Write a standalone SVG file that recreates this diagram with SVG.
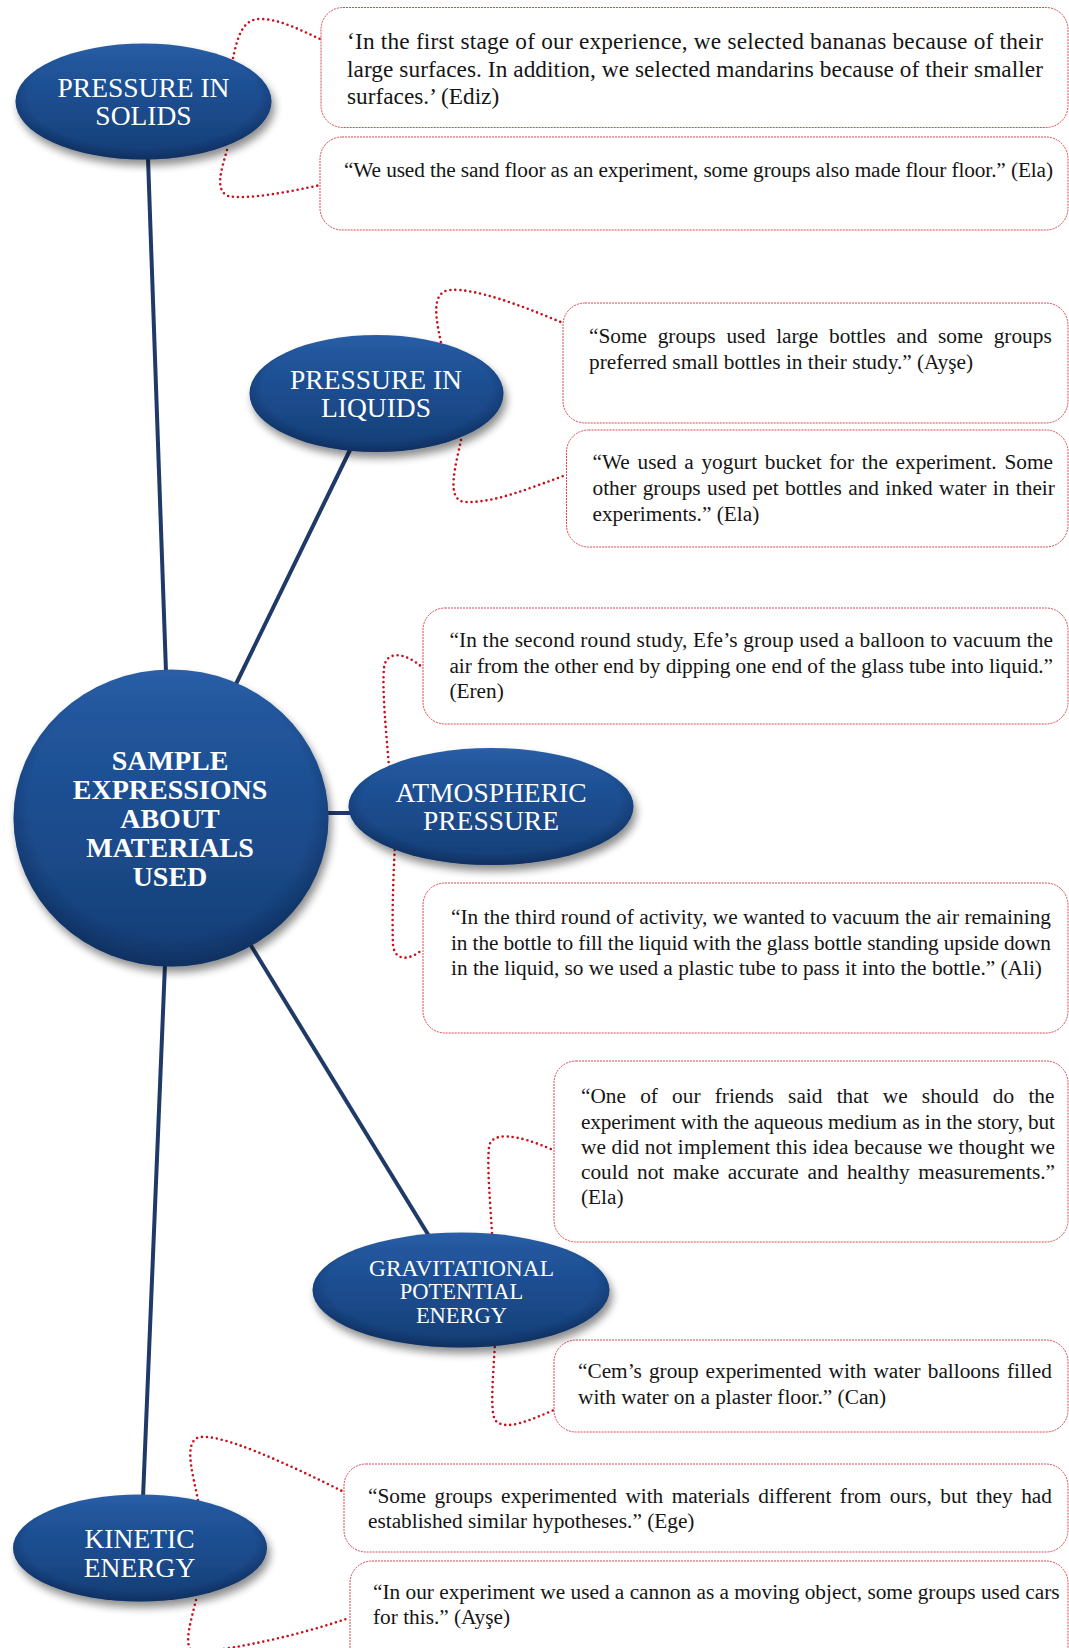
<svg xmlns="http://www.w3.org/2000/svg" width="1069" height="1648" viewBox="0 0 1069 1648">
<defs>
<linearGradient id="blue" x1="0" y1="0" x2="0" y2="1">
<stop offset="0" stop-color="#2a5ea6"/>
<stop offset="0.18" stop-color="#21559b"/>
<stop offset="0.6" stop-color="#1b4a8a"/>
<stop offset="1" stop-color="#153d74"/>
</linearGradient>
<radialGradient id="rim" cx="0.5" cy="0.45" r="0.55">
<stop offset="0.82" stop-color="#0a2550" stop-opacity="0"/>
<stop offset="1" stop-color="#0a2550" stop-opacity="0.55"/>
</radialGradient>
<filter id="shadow" x="-20%" y="-20%" width="140%" height="150%">
<feGaussianBlur in="SourceAlpha" stdDeviation="4"/>
<feOffset dx="3" dy="6" result="b"/>
<feComponentTransfer><feFuncA type="linear" slope="0.45"/></feComponentTransfer>
<feMerge><feMergeNode/><feMergeNode in="SourceGraphic"/></feMerge>
</filter>
</defs>
<style>
.base{fill:url(#blue);filter:url(#shadow)}
.rim{fill:url(#rim)}
.lbl{font-family:"Liberation Serif","Times New Roman",serif;fill:#ffffff;text-anchor:middle;font-size:27.5px}
.bold{font-weight:bold;font-size:28px}
.q{font-family:"Liberation Serif","Times New Roman",serif;font-size:21.3px;fill:#151515}
.q1{font-size:23.3px}
.box{fill:#ffffff;stroke:#d9474f;stroke-width:1;stroke-dasharray:2 1}
.conn{stroke:#1f3a68;stroke-width:4;fill:none}
.dot{stroke:#c8101a;stroke-width:2.6;fill:none;stroke-dasharray:0 5;stroke-linecap:round}
</style>
<rect width="1069" height="1648" fill="#ffffff"/>

<g id="connectors">
<line class="conn" x1="148" y1="158" x2="166" y2="672"/>
<line class="conn" x1="350" y1="450" x2="236" y2="684"/>
<line class="conn" x1="326" y1="813" x2="352" y2="813"/>
<line class="conn" x1="250" y1="944" x2="429" y2="1236"/>
<line class="conn" x1="165" y1="964" x2="143" y2="1498"/>
<path class="dot" d="M232,63 C237,38 242,19 260,19 C280,19 300,30 320,39"/>
<path class="dot" d="M227,150 C222,168 214,190 228,196 C245,200 290,192 320,185"/>
<path class="dot" d="M442,347 C436,320 430,292 450,290 C475,288 520,305 563,323"/>
<path class="dot" d="M461,440 C456,465 445,500 465,502 C495,503 530,488 566,475"/>
<path class="dot" d="M389,767 C386,730 382,690 384,668 C386,650 405,652 423,668"/>
<path class="dot" d="M395,845 C393,880 392,920 393,945 C395,962 410,960 422,950"/>
<path class="dot" d="M492,1233 C490,1200 487,1165 489,1147 C491,1132 515,1133 553,1150"/>
<path class="dot" d="M495,1342 C493,1380 490,1410 495,1420 C505,1432 530,1420 554,1410"/>
<path class="dot" d="M198,1500 C193,1475 184,1445 197,1438 C215,1430 290,1465 344,1492"/>
<path class="dot" d="M196,1600 C190,1625 180,1655 200,1652 C240,1648 300,1635 349,1618"/>
</g>

<g id="quote-ediz">
<rect class="box" x="321" y="7.5" width="747" height="120" rx="22"/>
<text class="q q1" x="347" y="49.3" textLength="696" lengthAdjust="spacing">‘In the first stage of our experience, we selected bananas because of their</text>
<text class="q q1" x="347" y="76.7" textLength="696" lengthAdjust="spacing">large surfaces. In addition, we selected mandarins because of their smaller</text>
<text class="q q1" x="347" y="104.3">surfaces.’ (Ediz)</text>
</g>
<g id="quote-ela-sand">
<rect class="box" x="320" y="137" width="748" height="93" rx="22"/>
<text class="q" x="344" y="177" textLength="709" lengthAdjust="spacing">“We used the sand floor as an experiment, some groups also made flour floor.” (Ela)</text>
</g>
<g id="quote-ayse-bottles">
<rect class="box" x="563" y="303" width="505" height="120" rx="22"/>
<text class="q" x="589" y="343.3" word-spacing="5.4">“Some groups used large bottles and some groups</text>
<text class="q" x="589" y="369.3">preferred small bottles in their study.” (Ayşe)</text>
</g>
<g id="quote-ela-yogurt">
<rect class="box" x="566.5" y="430" width="501.5" height="117" rx="22"/>
<text class="q" x="592.5" y="469" word-spacing="2.4">“We used a yogurt bucket for the experiment. Some</text>
<text class="q" x="592.5" y="495" word-spacing="1.1">other groups used pet bottles and inked water in their</text>
<text class="q" x="592.5" y="521">experiments.” (Ela)</text>
</g>
<g id="quote-eren">
<rect class="box" x="423" y="608" width="645" height="116" rx="22"/>
<text class="q" x="449.4" y="647" textLength="603.6" lengthAdjust="spacing">“In the second round study, Efe’s group used a balloon to vacuum the</text>
<text class="q" x="449.4" y="672.5" textLength="603.6" lengthAdjust="spacing">air from the other end by dipping one end of the glass tube into liquid.”</text>
<text class="q" x="449.4" y="698">(Eren)</text>
</g>
<g id="quote-ali">
<rect class="box" x="423" y="883" width="645" height="150" rx="22"/>
<text class="q" x="451" y="924" textLength="600" lengthAdjust="spacing">“In the third round of activity, we wanted to vacuum the air remaining</text>
<text class="q" x="451" y="950" textLength="600" lengthAdjust="spacing">in the bottle to fill the liquid with the glass bottle standing upside down</text>
<text class="q" x="451" y="975">in the liquid, so we used a plastic tube to pass it into the bottle.” (Ali)</text>
</g>
<g id="quote-ela-friends">
<rect class="box" x="554" y="1061" width="514" height="181" rx="22"/>
<text class="q" x="581" y="1102.5" word-spacing="8.9">“One of our friends said that we should do the</text>
<text class="q" x="581" y="1128.5" textLength="474" lengthAdjust="spacing">experiment with the aqueous medium as in the story, but</text>
<text class="q" x="581" y="1153.5" textLength="474" lengthAdjust="spacing">we did not implement this idea because we thought we</text>
<text class="q" x="581" y="1178.5" word-spacing="3.4">could not make accurate and healthy measurements.”</text>
<text class="q" x="581" y="1204">(Ela)</text>
</g>
<g id="quote-can">
<rect class="box" x="554" y="1340" width="514" height="92" rx="22"/>
<text class="q" x="578" y="1377.5" word-spacing="1.7">“Cem’s group experimented with water balloons filled</text>
<text class="q" x="578" y="1403.5">with water on a plaster floor.” (Can)</text>
</g>
<g id="quote-ege">
<rect class="box" x="344" y="1464" width="724" height="88" rx="22"/>
<text class="q" x="368" y="1503.3" word-spacing="3.2">“Some groups experimented with materials different from ours, but they had</text>
<text class="q" x="368" y="1528">established similar hypotheses.” (Ege)</text>
</g>
<g id="quote-ayse-cannon">
<rect class="box" x="350" y="1561" width="718" height="110" rx="22"/>
<text class="q" x="373" y="1599">“In our experiment we used a cannon as a moving object, some groups used cars</text>
<text class="q" x="373" y="1624">for this.” (Ayşe)</text>
</g>

<g id="node-solids">
<ellipse class="base" cx="143.5" cy="101.5" rx="128" ry="58"/>
<ellipse class="rim" cx="143.5" cy="101.5" rx="128" ry="58"/>
<text class="lbl" x="143.5" y="97">PRESSURE IN</text>
<text class="lbl" x="143.5" y="125">SOLIDS</text>
</g>
<g id="node-liquids">
<ellipse class="base" cx="376.5" cy="393.5" rx="127" ry="58.5"/>
<ellipse class="rim" cx="376.5" cy="393.5" rx="127" ry="58.5"/>
<text class="lbl" x="376" y="388.5">PRESSURE IN</text>
<text class="lbl" x="376" y="416.5">LIQUIDS</text>
</g>
<g id="node-center">
<ellipse class="base" cx="171" cy="818" rx="157.5" ry="148.5"/>
<ellipse class="rim" cx="171" cy="818" rx="157.5" ry="148.5"/>
<text class="lbl bold" x="170" y="770">SAMPLE</text>
<text class="lbl bold" x="170" y="799">EXPRESSIONS</text>
<text class="lbl bold" x="170" y="827.5">ABOUT</text>
<text class="lbl bold" x="170" y="856.5">MATERIALS</text>
<text class="lbl bold" x="170" y="885.5">USED</text>
</g>
<g id="node-atmospheric">
<ellipse class="base" cx="491" cy="806.5" rx="142.5" ry="58.5"/>
<ellipse class="rim" cx="491" cy="806.5" rx="142.5" ry="58.5"/>
<text class="lbl" x="491" y="802">ATMOSPHERIC</text>
<text class="lbl" x="491" y="830">PRESSURE</text>
</g>
<g id="node-gravitational">
<ellipse class="base" cx="461" cy="1290" rx="148.5" ry="57.5"/>
<ellipse class="rim" cx="461" cy="1290" rx="148.5" ry="57.5"/>
<text class="lbl" x="461.5" y="1276" style="font-size:22.5px" textLength="185" lengthAdjust="spacingAndGlyphs">GRAVITATIONAL</text>
<text class="lbl" x="461.5" y="1298.5" style="font-size:22.5px">POTENTIAL</text>
<text class="lbl" x="461.5" y="1322.5" style="font-size:22.5px">ENERGY</text>
</g>
<g id="node-kinetic">
<ellipse class="base" cx="140" cy="1548" rx="127" ry="53.5"/>
<ellipse class="rim" cx="140" cy="1548" rx="127" ry="53.5"/>
<text class="lbl" x="139.5" y="1547.5">KINETIC</text>
<text class="lbl" x="139.5" y="1576.5">ENERGY</text>
</g>
</svg>
